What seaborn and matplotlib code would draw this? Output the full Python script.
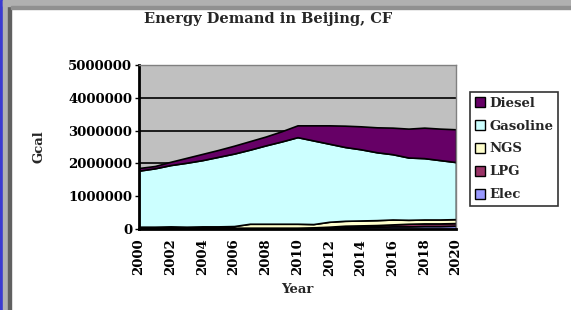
import numpy as np
import matplotlib
matplotlib.use("Agg")
import matplotlib.pyplot as plt
import matplotlib.patches as mpatches
import seaborn as sns

# data (Gcal)
years = list(range(2000, 2021))
elec = [0, 0, 0, 0, 0, 0, 0, 0, 0, 0, 0, 0, 20000,
        50000, 60000, 70000, 80000, 80000, 90000, 90000, 100000]
lpg = [50000, 50000, 50000, 40000, 40000, 40000, 40000, 40000, 40000, 40000, 40000,
       50000, 50000, 50000, 50000, 50000, 60000, 80000, 80000, 80000, 80000]
ngs = [20000, 20000, 30000, 30000, 40000, 40000, 50000, 120000, 120000, 120000, 120000,
       100000, 150000, 150000, 150000, 150000, 150000, 120000, 120000, 120000, 120000]
gasoline = [1710000, 1780000, 1870000, 1950000, 2020000, 2120000, 2210000, 2260000,
            2390000, 2510000, 2640000, 2550000, 2380000, 2250000, 2170000, 2070000,
            1990000, 1900000, 1870000, 1810000, 1740000]
diesel = [80000, 70000, 100000, 150000, 190000, 210000, 240000, 260000, 270000, 310000,
          360000, 460000, 560000, 650000, 700000, 760000, 810000, 880000, 930000,
          960000, 1000000]

labels = ["Elec", "LPG", "NGS", "Gasoline", "Diesel"]
colors = ["#9999FF", "#993366", "#FFFFCC", "#CCFFFF", "#660066"]

sns.set_style("white")
plt.rcParams["font.family"] = ["DejaVu Serif"]
plt.rcParams["font.weight"] = "bold"

fs = 9.5

fig = plt.figure(figsize=(5.71, 3.10), dpi=100)

# window frame like the screenshot
fig.patches.append(mpatches.Rectangle((0, 0), 3 / 571, 1, transform=fig.transFigure,
                                      color="#3a3ad0", zorder=0))
fig.patches.append(mpatches.Rectangle((3 / 571, 0), 5 / 571, 1, transform=fig.transFigure,
                                      color="#b0b0b0", zorder=0))
fig.patches.append(mpatches.Rectangle((8 / 571, 0), 3 / 571, 1 - 6 / 310,
                                      transform=fig.transFigure, color="#606060", zorder=0))
fig.patches.append(mpatches.Rectangle((3 / 571, 1 - 6 / 310), 1, 6 / 310,
                                      transform=fig.transFigure, color="#b0b0b0", zorder=0))
fig.patches.append(mpatches.Rectangle((11 / 571, 1 - 9 / 310), 1, 3 / 310,
                                      transform=fig.transFigure, color="#909090", zorder=0))

ax = fig.add_axes([139 / 571, 1 - 229 / 310, (456 - 139) / 571, (229 - 65) / 310])
ax.set_facecolor("#C0C0C0")

ax.stackplot(years, elec, lpg, ngs, gasoline, diesel, colors=colors,
             edgecolor="black", linewidth=1.2, zorder=2)

ax.set_xlim(2000, 2020)
ax.set_ylim(0, 5000000)
ax.set_yticks(np.arange(0, 5000001, 1000000))
ax.set_yticklabels([str(v) for v in range(0, 5000001, 1000000)])
ax.set_xticks(years[::2])
ax.set_xticklabels([str(y) for y in years[::2]], rotation=90)
ax.yaxis.grid(True, color="black", linewidth=1.2, zorder=1)
ax.set_axisbelow(True)
ax.tick_params(axis="both", labelsize=fs, length=3, width=1, direction="out",
               colors="black", pad=2)
ax.tick_params(axis="y", left=True)
ax.tick_params(axis="x", bottom=False, pad=4)
for s in ["left", "bottom"]:
    ax.spines[s].set_color("black")
    ax.spines[s].set_linewidth(2)
for s in ["top", "right"]:
    ax.spines[s].set_color("#808080")
    ax.spines[s].set_linewidth(1)

ax.set_xlabel("Year", fontsize=fs, fontweight="bold", labelpad=5)
ax.set_ylabel("Gcal", fontsize=fs, fontweight="bold", labelpad=16)

fig.text(268 / 571, 1 - 19 / 310, "Energy Demand in Beijing, CF", ha="center", va="center",
         fontsize=10.5, fontweight="bold")

handles = [mpatches.Patch(facecolor=c, edgecolor="black", label=l)
           for l, c in zip(labels[::-1], colors[::-1])]
leg = fig.legend(handles=handles, loc="upper left", bbox_to_anchor=(470 / 571, 1 - 92 / 310),
                 fontsize=fs, frameon=True, fancybox=False, borderpad=0.35,
                 labelspacing=0.75, handlelength=0.8, handleheight=0.8, handletextpad=0.3,
                 borderaxespad=0)
leg.get_frame().set_edgecolor("black")
leg.get_frame().set_linewidth(1.2)

fig.savefig("out.png", dpi=100)
